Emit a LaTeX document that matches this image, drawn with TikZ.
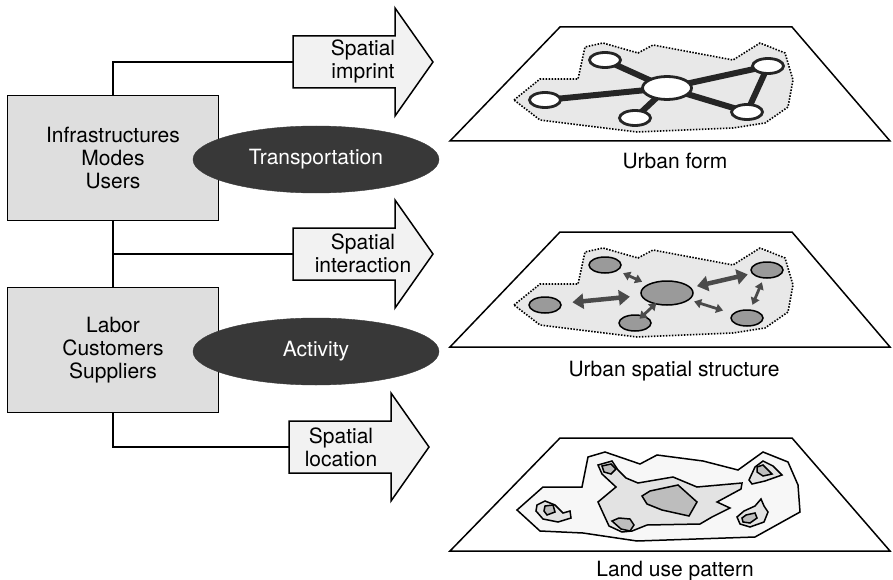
\documentclass[tikz,border=0pt]{standalone}
\usepackage{fontspec}
\setmainfont{TeX Gyre Heros}
\usetikzlibrary{shapes.geometric,arrows.meta,backgrounds}
\definecolor{boxgray}{HTML}{DEDEDE}
\definecolor{arrowgray}{HTML}{F2F2F2}
\definecolor{ellgray}{HTML}{383838}
\definecolor{regiongray}{HTML}{E8E8E8}
\definecolor{netdark}{HTML}{252525}
\definecolor{poigray}{HTML}{9A9A9A}
\definecolor{flowgray}{HTML}{4A4A4A}
\definecolor{luouter}{HTML}{F7F7F7}
\definecolor{lumid}{HTML}{E3E3E3}
\definecolor{luinner}{HTML}{BDBDBD}
\tikzset{
  factorbox/.style={draw, line width=1.5pt, fill=boxgray, minimum width=211pt,
    minimum height=125pt, inner sep=0pt, align=center},
  sphere/.style={ellipse, draw=ellgray, fill=ellgray, text=white,
    minimum width=246pt, minimum height=67pt, inner sep=0pt},
  link/.style={line width=1.5pt},
  blockarrow/.pic={
    \draw[line width=1.5pt, fill=arrowgray]
      (0,-26) -- (102,-26) -- (102,-54) -- (140,0) -- (102,54) -- (102,26)
      -- (0,26) -- cycle;
    \coordinate (-tail) at (0,0);
  },
  arrowtext/.style={align=center, inner sep=0pt},
  plane/.style={line width=1.5pt},
  region/.style={fill=regiongray, line width=1.6pt, dash pattern=on 1.5pt off 1.5pt},
  road/.style={line width=6pt, draw=netdark},
  place/.style={ellipse, draw=netdark, line width=2.8pt, fill=white,
    minimum width=31pt, minimum height=15pt, inner sep=0pt},
  hub/.style={place, minimum width=49pt, minimum height=23pt},
  poi/.style={ellipse, draw, line width=1.5pt, fill=poigray,
    minimum width=32pt, minimum height=16pt, inner sep=0pt},
  bighub/.style={poi, minimum width=52pt, minimum height=24pt},
  bigflow/.style={draw=flowgray, line width=4.5pt,
    {Triangle[length=11pt,width=15pt]}-{Triangle[length=11pt,width=15pt]}},
  smallflow/.style={draw=flowgray, line width=2.8pt,
    {Triangle[length=7pt,width=9pt]}-{Triangle[length=7pt,width=9pt]}},
  landuse/.style={line width=1.5pt},
  maplabel/.style={inner sep=0pt}
}
\begin{document}
\begin{tikzpicture}[x=1pt, y=-1pt, line join=miter,
  font=\fontsize{21}{23}\selectfont]
\useasboundingbox (0,0) rectangle (893,580);

% ---- factor boxes, block arrows and their links ----
\pic (imprint) at (293,62) {blockarrow};
\pic (interact) at (293,254) {blockarrow};
\pic (locate) at (289,447) {blockarrow};

\node[factorbox] (infra) at (113,158) {Infrastructures\\Modes\\Users};
\node[factorbox] (labor) at (113,350) {Labor\\Customers\\Suppliers};

\draw[link] (infra.north) |- (imprint-tail);
\draw[link] (infra.south) -- (labor.north);
\coordinate (junction) at (infra.south |- interact-tail);
\draw[link] (junction) -- (interact-tail);
\draw[link] (labor.south) |- (locate-tail);

\node[sphere] (transport) at (316,159.5) {Transportation};
\node[sphere] (activity) at (316,351.5) {Activity};

\node[arrowtext] (imprinttxt) at (363,61) {Spatial\\imprint};
\node[arrowtext] (interacttxt) at (363,253) {Spatial\\interaction};
\node[arrowtext] (locatetxt) at (341,447) {Spatial\\location};

% ---- urban form: transport network ----
\draw[plane] (560,27) -- (792,27) -- (890,141) -- (450,141) -- cycle;
\node[hub] (fc) at (667,88) {};
\node[place] (ftl) at (605,60) {};
\node[place] (fl) at (545,100) {};
\node[place] (fb) at (635,118) {};
\node[place] (frt) at (768,66) {};
\node[place] (frb) at (747,112) {};
\begin{pgfonlayer}{background}
  \draw[region] (514,100) -- (540,79) -- (578,79) -- (585,47) -- (603,43)
    -- (638,53) -- (653,45) -- (733,60) -- (760,43) -- (785,53) -- (793,80)
    -- (788,107) -- (765,123) -- (733,128) -- (637,132) -- (580,125)
    -- (540,120) -- cycle;
  \draw[road] (fc.center) -- (ftl.center);
  \draw[road] (fc.center) -- (fl.center);
  \draw[road] (fc.center) -- (fb.center);
  \draw[road] (fc.center) -- (frt.center);
  \draw[road] (fc.center) -- (frb.center);
  \draw[road] (frt.center) -- (frb.center);
\end{pgfonlayer}
\node[maplabel] (formlbl) at (675,161) {Urban form};

% ---- urban spatial structure: places and flows ----
\draw[plane] (560,232) -- (792,232) -- (890,347) -- (450,347) -- cycle;
\begin{scope}[yshift=-205pt]
  \draw[region] (514,100) -- (540,79) -- (578,79) -- (585,47) -- (603,43)
    -- (638,53) -- (653,45) -- (733,60) -- (760,43) -- (785,53) -- (793,80)
    -- (788,107) -- (765,123) -- (733,128) -- (637,132) -- (580,125)
    -- (540,120) -- cycle;
\end{scope}
\node[bighub] (sc) at (667,293) {};
\node[poi] (stl) at (605,265) {};
\node[poi] (sl) at (545,305) {};
\node[poi] (sb) at (635,323) {};
\node[poi] (srt) at (767,270) {};
\node[poi] (srb) at (747,318) {};
\draw[bigflow, shorten <=11pt, shorten >=11pt] (sl) -- (sc);
\draw[bigflow, shorten <=6pt, shorten >=4pt] (sc) -- (srt);
\draw[smallflow, shorten <=6pt, shorten >=6pt] (stl) -- (sc);
\draw[smallflow, shorten <=-5pt, shorten >=-2pt] (sb) -- (sc);
\draw[smallflow, shorten <=5pt, shorten >=10pt] (sc) -- (srb);
\draw[smallflow, shorten <=4pt, shorten >=5pt] (srt) -- (srb);
\node[maplabel] (structlbl) at (674,371) {Urban spatial structure};

% ---- land use pattern ----
\draw[plane] (560,438) -- (792,438) -- (890,551) -- (450,551) -- cycle;
\draw[landuse, fill=luouter] (517,510) -- (543,487) -- (582,487) -- (588,457)
  -- (605,452) -- (640,464) -- (657,455) -- (703,461) -- (738,470)
  -- (763,452) -- (788,462) -- (798,485) -- (800,512) -- (755,537)
  -- (637,541) -- (583,533) -- (540,531) -- cycle;
\draw[landuse, fill=lumid] (598,465) -- (612,461) -- (618,470) -- (626,478)
  -- (638,483) -- (673,477) -- (697,487) -- (742,483) -- (741,489)
  -- (717,502) -- (730,508) -- (712,517) -- (700,524) -- (647,525)
  -- (632,531) -- (622,532) -- (609,526) -- (603,513) -- (598,502)
  -- (616,487) -- (602,474) -- cycle;
\draw[landuse, fill=luinner] (642,496) -- (650,491) -- (678,485) -- (697,502)
  -- (689,516) -- (662,510) -- (647,504) -- cycle;
\draw[landuse, fill=luinner] (602,466) -- (611,464) -- (616,469) -- (611,474)
  -- (604,472) -- cycle;
\draw[landuse, fill=luinner] (612,521) -- (619,518) -- (630,519) -- (634,525)
  -- (630,531) -- (621,529) -- cycle;
% left cluster
\draw[landuse, fill=lumid] (537,505) -- (545,501) -- (555,505) -- (563,513)
  -- (570,511) -- (571,518) -- (558,522) -- (543,519) -- (536,511) -- cycle;
\draw[landuse, fill=luinner] (545,506) -- (553,505) -- (555,512) -- (547,515)
  -- (544,511) -- cycle;
% upper right cluster
\draw[landuse, fill=lumid] (749,480) -- (755,467) -- (763,461) -- (773,466)
  -- (782,475) -- (765,481) -- (752,484) -- cycle;
\draw[landuse, fill=luinner] (757,467) -- (763,465) -- (772,474) -- (763,476)
  -- (757,472) -- cycle;
% lower right cluster
\draw[landuse, fill=lumid] (737,517) -- (744,511) -- (755,506) -- (761,499)
  -- (764,506) -- (768,512) -- (764,522) -- (750,527) -- (740,524) -- cycle;
\draw[landuse, fill=luinner] (742,518) -- (746,515) -- (755,513) -- (757,518)
  -- (750,523) -- (743,522) -- cycle;
\node[maplabel] (landlbl) at (675,571) {Land use pattern};
\end{tikzpicture}
\end{document}
